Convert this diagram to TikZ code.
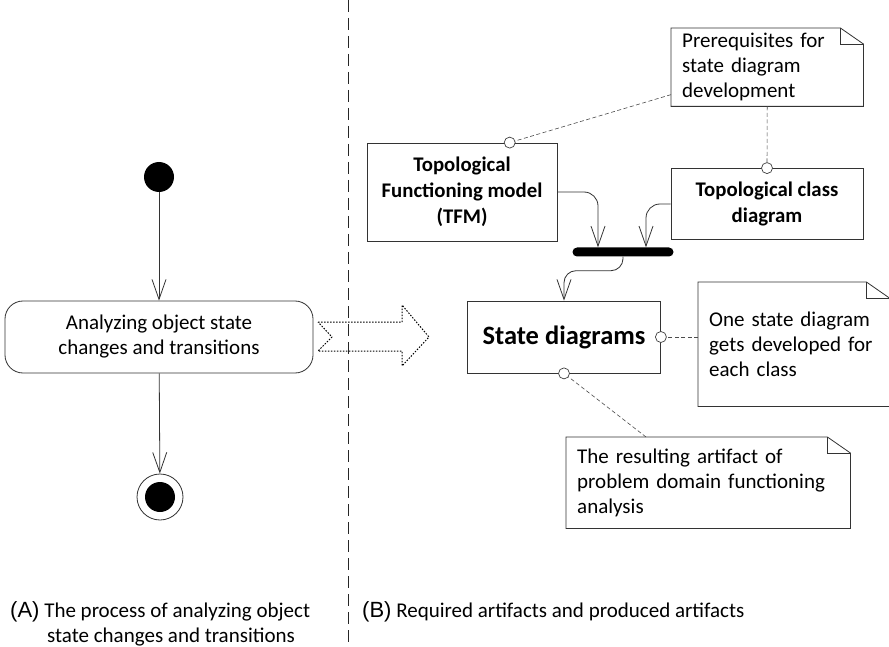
\documentclass[tikz,border=0pt]{standalone}
\usepackage{fontspec}
\setmainfont{Carlito}
\newfontfamily\labelfont{Liberation Sans}
\usetikzlibrary{arrows.meta,calc}

\tikzset{
  ink/.style={draw=black!80, line width=0.8pt},
  flow/.style={ink, -{Straight Barb[length=20pt,width=14pt,line width=0.8pt]}},
  txt/.style={font=\fontsize{21}{25}\selectfont},
  actbox/.style={ink, rounded corners=18pt, minimum width=308pt, minimum height=72pt, txt, align=center},
  artbox/.style={ink, rectangle, inner sep=0pt, align=center, font=\bfseries\fontsize{20.8}{26}\selectfont},
  notebox/.style={inner xsep=11pt, inner ysep=0pt, align=left, anchor=north west, txt},
  notelink/.style={draw=black!70, line width=0.6pt, dash pattern=on 4pt off 2.5pt},
  pin/.style={draw=black!75, line width=0.7pt, fill=white},
  caption/.style={anchor=north west, align=left, inner sep=0pt, txt}
}

% Folded-corner outline around a note node
\newcommand{\foldnote}[1]{%
  \draw[ink] (#1.north west) -- ($(#1.north east)+(-23,0)$) -- ($(#1.north east)+(0,16)$)
    -- (#1.south east) -- (#1.south west) -- cycle;
  \draw[ink] ($(#1.north east)+(-23,0)$) -- ($(#1.north east)+(-23,16)$) -- ($(#1.north east)+(0,16)$);
}

\begin{document}
\begin{tikzpicture}[x=1pt, y=-1pt]
\useasboundingbox[fill=white] (0,0) rectangle (889,647);

% separator between the two panels
\draw[black!85, line width=1pt, dash pattern=on 12pt off 6pt] (348,0) -- (348,647);

% ---- (A) activity flow ----
\node[circle, fill=black, minimum size=30pt, inner sep=0pt] (start) at (159,177) {};
\node[actbox] (act) at (159,337) {Analyzing object state\\changes and transitions};
\node[circle, ink, fill=white, minimum size=46pt, inner sep=0pt] (final) at (160,497) {};
\fill (final.center) circle (15);
\draw[flow] (start) -- (act);
\draw[flow] (act) -- (final);

% ---- (B) artifacts ----
\node[artbox, minimum width=190pt, minimum height=98pt] (tfm) at (462,192)
  {Topological\\Functioning model\\(TFM)};
\node[artbox, minimum width=192pt, minimum height=71pt] (cls) at (767,204)
  {Topological class\\diagram};
\node[rectangle, fill=black, rounded corners=4.5pt, minimum width=101pt, minimum height=9pt, inner sep=0pt] (bar) at (623,252) {};
\node[artbox, minimum width=193pt, minimum height=72pt, font=\bfseries\fontsize{26.5}{30}\selectfont] (state) at (564,337)
  {State diagrams};

\draw[flow, rounded corners=14pt] (tfm.east) -| ([xshift=-25pt]bar.north);
\draw[flow, rounded corners=14pt] (cls.west) -| ([xshift=23pt]bar.north);
\draw[flow, rounded corners=12pt] (bar.south) -- ++(0,14) -| (state.north);

% notes
\node[notebox, text width=170pt, minimum height=78pt] (pre) at (671,28)
  {Prerequisites for\\state diagram\\development};
\node[notebox, text width=169pt, minimum height=124pt] (one) at (698,282)
  {One state diagram\\gets developed for\\each class};
\node[notebox, text width=262pt, minimum height=91pt] (res) at (566,437)
  {The resulting artifact of\\problem domain functioning\\analysis};
\foldnote{pre}
\foldnote{one}
\foldnote{res}

% note attachments
\coordinate (tfmpin) at ($(tfm.north west)!0.75!(tfm.north east)$);
\draw[notelink] ($(pre.south west)!0.15!(pre.north west)$) -- (tfmpin);
\draw[notelink] (pre.south) -- (cls.north);
\draw[notelink] (one.west |- state.east) -- (state.east);
\draw[notelink] ($(res.north west)+(80,0)$) -- (state.south);
\draw[pin] (tfmpin) circle (5.5);
\draw[pin] (cls.north) circle (5.5);
\draw[pin] (state.east) circle (5.5);
\draw[pin] (state.south) circle (5.5);

% transformation arrow from (A) to (B)
\draw[black, line width=1pt, dash pattern=on 1.5pt off 1.5pt]
  (318,322) -- (402,322) -- (402,305) -- (429,337) -- (402,366) -- (402,351)
  -- (318,351) -- (332,337) -- cycle;

% captions
\node[caption] (capA) at (10,601)
  {{\labelfont\fontsize{22}{25}\selectfont(A)} The process of analyzing object\\\hspace*{37pt}state changes and transitions};
\node[caption] (capB) at (362,601)
  {{\labelfont\fontsize{22}{25}\selectfont(B)} Required artifacts and produced artifacts};
\end{tikzpicture}
\end{document}
